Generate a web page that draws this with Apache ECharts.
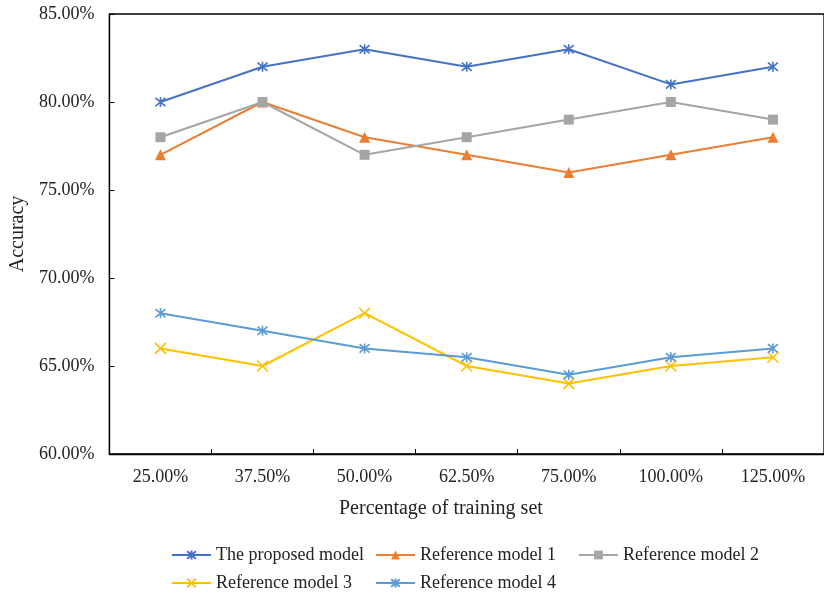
<!DOCTYPE html>
<html>
<head>
<meta charset="utf-8">
<script src="https://cdn.jsdelivr.net/npm/echarts@6/dist/echarts.min.js"></script>
<style>html,body{margin:0;padding:0;background:#fff}#c{width:824px;height:594px}</style>
</head>
<body>
<div id="c"></div>
<script>
const categories = ['25.00%', '37.50%', '50.00%', '62.50%', '75.00%', '100.00%', '125.00%'];
const proposedModel = [80, 82, 83, 82, 83, 81, 82];
const referenceModel1 = [77, 80, 78, 77, 76, 77, 78];
const referenceModel2 = [78, 80, 77, 78, 79, 80, 79];
const referenceModel3 = [66, 65, 68, 65, 64, 65, 65.5];
const referenceModel4 = [68, 67, 66, 65.5, 64.5, 65.5, 66];
const seriesNames = ['The proposed model', 'Reference model 1', 'Reference model 2', 'Reference model 3', 'Reference model 4'];

const FONT = '"Liberation Serif", "Times New Roman", serif';
const ASTERISK = 'path://M0 0 L10 10 M10 0 L0 10 M5 -1 L5 11';
const XMARK = 'path://M0 0 L10 10 M10 0 L0 10';

function mk(name, data, color, symbol, size, stroked) {
  return {
    name, type: 'line', data, symbol, symbolSize: size,
    lineStyle: { color, width: 2 },
    itemStyle: stroked ? { color: color, borderColor: color, borderWidth: 1.6 } : { color },
    emphasis: { disabled: true },
    animation: false
  };
}

const legendPos = [[166, 541], [370, 541], [573, 541], [166, 569], [370, 569]];
const legends = seriesNames.map((n, i) => ({
  data: [n], left: legendPos[i][0], top: legendPos[i][1], itemWidth: 39, itemHeight: 11,
  textStyle: { color: '#222', fontFamily: FONT, fontSize: 18 }
}));

const chart = echarts.init(document.getElementById('c'), null, { renderer: 'canvas' });
chart.setOption({
  backgroundColor: '#fff',
  animation: false,
  grid: { left: 108, top: 14, width: 724, height: 440, show: true, borderColor: '#000', borderWidth: 1.3, backgroundColor: 'transparent' },
  xAxis: {
    type: 'category', data: categories, boundaryGap: true,
    axisLine: { lineStyle: { color: '#000', width: 1.3 } },
    axisTick: { show: true, inside: true, length: 5, alignWithLabel: false, lineStyle: { color: '#000' } },
    axisLabel: { color: '#222', fontFamily: FONT, fontSize: 18, margin: 14 },
    splitLine: { show: false }
  },
  yAxis: {
    type: 'value', min: 60, max: 85, interval: 5,
    name: 'Accuracy', nameLocation: 'middle', nameGap: 80,
    nameTextStyle: { color: '#222', fontFamily: FONT, fontSize: 20 },
    axisLine: { show: true, lineStyle: { color: '#000', width: 1.3 } },
    axisTick: { show: true, inside: true, length: 5, lineStyle: { color: '#000' } },
    axisLabel: { color: '#222', fontFamily: FONT, fontSize: 18, margin: 15, formatter: v => v.toFixed(2) + '%' },
    splitLine: { show: false }
  },
  legend: legends,
  graphic: [
    { type: 'text', left: 339, top: 499, style: { text: 'Percentage of training set', fill: '#222', font: '20px ' + FONT } }
  ],
  series: [
    mk(seriesNames[0], proposedModel, '#4472C4', ASTERISK, 10, true),
    mk(seriesNames[1], referenceModel1, '#ED7D31', 'triangle', 11, false),
    mk(seriesNames[2], referenceModel2, '#A5A5A5', 'rect', 10, false),
    mk(seriesNames[3], referenceModel3, '#FFC000', XMARK, 11, true),
    mk(seriesNames[4], referenceModel4, '#5B9BD5', ASTERISK, 10, true)
  ]
});
</script>
</body>
</html>
